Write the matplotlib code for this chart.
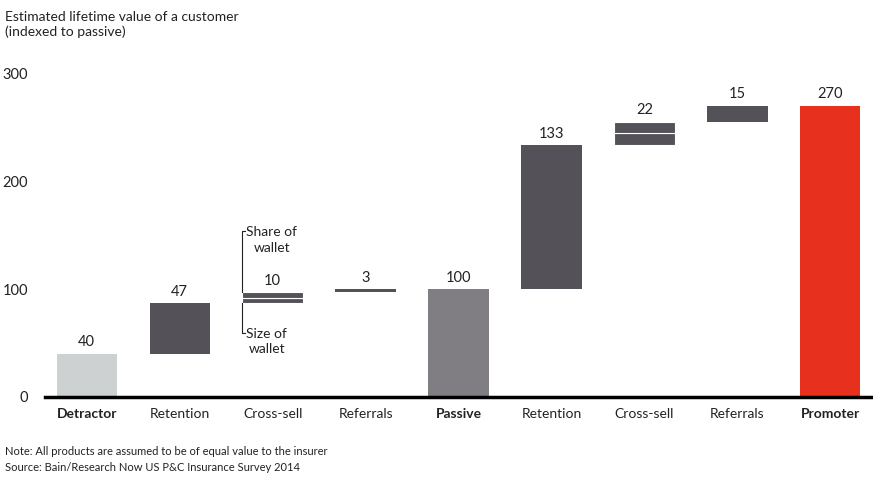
import matplotlib
matplotlib.use("Agg")
import matplotlib.pyplot as plt

categories = ["Detractor", "Retention", "Cross-sell", "Referrals", "Passive",
              "Retention", "Cross-sell", "Referrals", "Promoter"]
bold_cats = [0, 4, 8]
bottoms = [0, 40, 87, 97, 0, 100, 233, 255, 0]
heights = [40, 47, 10, 3, 100, 133, 22, 15, 270]
labels = ["40", "47", "10", "3", "100", "133", "22", "15", "270"]
# split of the cross-sell bars (lower part, upper part)
split_lower = {2: 5, 6: 12}
colors = ["#cdd1d1", "#545258", "#545258", "#545258", "#807e83",
          "#545258", "#545258", "#545258", "#e8301f"]
yticks = [0, 100, 200, 300]

plt.rcParams['font.family'] = ['Lato', 'DejaVu Sans']

fig = plt.figure(figsize=(8.73, 4.78), dpi=100)
ax = fig.add_axes([0.0515, 0.1695, 0.9485, 0.6775])

x = list(range(len(categories)))
w = 0.65
for i in x:
    if i in split_lower:
        lo = split_lower[i]
        ax.bar(i, lo, bottom=bottoms[i], width=w, color=colors[i],
               edgecolor="white", linewidth=0.8)
        ax.bar(i, heights[i] - lo, bottom=bottoms[i] + lo, width=w,
               color=colors[i], edgecolor="white", linewidth=0.8)
    else:
        ax.bar(i, heights[i], bottom=bottoms[i], width=w, color=colors[i],
               linewidth=0)
    ax.text(i, bottoms[i] + heights[i] + 4, labels[i], ha="center",
            va="bottom", fontsize=10.5, color="#222222")

ax.set_xlim(-0.45, 8.46)
ax.set_ylim(0, 300)
ax.set_yticks(yticks)
ax.set_yticklabels([str(v) for v in yticks])
ax.set_xticks(x)
ax.set_xticklabels(categories)
for i, lab in enumerate(ax.get_xticklabels()):
    if i in bold_cats:
        lab.set_fontweight("bold")
ax.tick_params(axis="x", length=0, pad=8, labelsize=10, colors="#222222")
ax.tick_params(axis="y", length=0, pad=12, labelsize=10.5, colors="#222222")
for s in ["top", "right", "left"]:
    ax.spines[s].set_visible(False)
ax.spines["bottom"].set_linewidth(2.5)
ax.spines["bottom"].set_color("black")

# bracket annotation for first cross-sell
xl = 2 - w / 2
ax.plot([xl, xl, xl + 0.03], [bottoms[2] + heights[2], 154, 154],
        color="#222222", lw=0.8, clip_on=False)
ax.plot([xl, xl, xl + 0.03], [bottoms[2], 59, 59],
        color="#222222", lw=0.8, clip_on=False)
ax.text(xl + 0.04, 158, "Share of\nwallet", ha="left", va="top",
        multialignment="center", fontsize=10, color="#222222", linespacing=1.35)
ax.text(xl + 0.04, 64, "Size of\nwallet", ha="left", va="top",
        multialignment="center", fontsize=10, color="#222222", linespacing=1.35)

fig.text(0.006, 0.978, "Estimated lifetime value of a customer\n(indexed to passive)",
         ha="left", va="top", fontsize=10, color="#222222", linespacing=1.3)
fig.text(0.006, 0.055, "Note: All products are assumed to be of equal value to the insurer",
         ha="left", va="center", fontsize=8, color="#222222")
fig.text(0.006, 0.023, "Source: Bain/Research Now US P&C Insurance Survey 2014",
         ha="left", va="center", fontsize=8, color="#222222")

fig.savefig("out.png", dpi=100)
